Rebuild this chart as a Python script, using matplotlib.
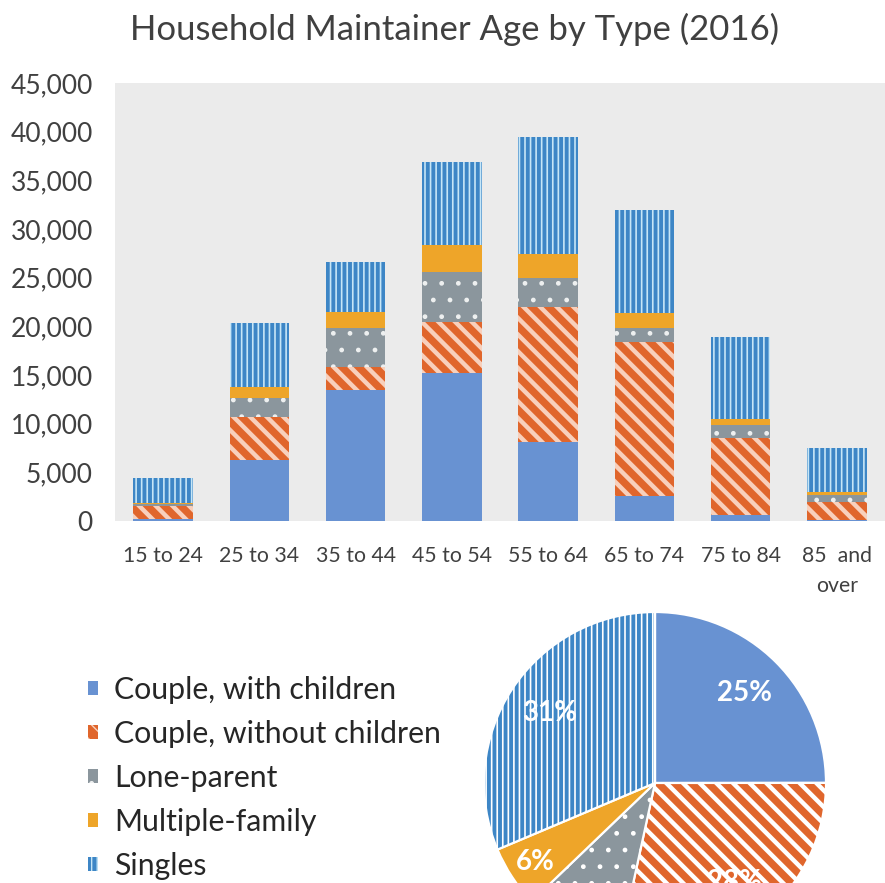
import numpy as np
import matplotlib
matplotlib.use("Agg")
import matplotlib.pyplot as plt
from matplotlib.patches import Patch
from matplotlib.ticker import FuncFormatter

plt.rcParams['font.family'] = ['Lato', 'DejaVu Sans']

# household maintainers by age group, stacked by household type
ages = ['15 to 24', '25 to 34', '35 to 44', '45 to 54', '55 to 64',
        '65 to 74', '75 to 84', '85  and\nover']
couple_with = [200, 6260, 13450, 15160, 8140, 2570, 620, 100]
couple_without = [1300, 4450, 2390, 5300, 13860, 15840, 7870, 1880]
lone_parent = [200, 1890, 3940, 5140, 2920, 1370, 1370, 690]
multiple_family = [150, 1190, 1710, 2740, 2560, 1540, 580, 340]
singles = [2550, 6540, 5130, 8550, 11980, 10680, 8480, 4450]

types = ['Couple, with children', 'Couple, without children', 'Lone-parent',
         'Multiple-family', 'Singles']
series = [couple_with, couple_without, lone_parent, multiple_family, singles]

# face colour, hatch colour, hatch pattern, hatch width
styles = [
    ('#6892d2', '#6892d2', None, 1.0),
    ('#e0662c', '#f8d0bc', '\\\\', 3.2),
    ('#8b969d', '#eef0f0', '.', 1.0),
    ('#eea529', '#eea529', None, 1.0),
    ('#3d86c6', '#c6e6f7', '|||', 1.2),
]

text_col = '#404040'

fig = plt.figure(figsize=(8.85, 8.83), dpi=100)
fig.patch.set_facecolor('white')

ax = fig.add_axes([115 / 885, 1 - 521 / 883, 770 / 885, 438 / 883])
ax.set_facecolor('#ebebeb')

x = np.arange(len(ages))
bottom = np.zeros(len(ages))
for vals, (fc, hc, hatch, hlw) in zip(series, styles):
    with plt.rc_context({'hatch.linewidth': hlw}):
        bars = ax.bar(x, vals, 0.62, bottom=bottom, color=fc, edgecolor=hc,
                      hatch=hatch, linewidth=0)
    for b in bars:
        if hasattr(b, 'set_hatch_linewidth'):
            b.set_hatch_linewidth(hlw)
    bottom += np.array(vals)

ax.set_xlim(-0.5, len(ages) - 0.5)
ax.set_ylim(0, 45000)
ax.set_yticks(np.arange(0, 45001, 5000))
ax.yaxis.set_major_formatter(FuncFormatter(lambda v, p: f'{v:,.0f}'))
ax.set_xticks(x)
ax.set_xticklabels(ages, linespacing=1.65)
ax.tick_params(axis='y', length=0, pad=16, labelsize=19, labelcolor=text_col)
ax.tick_params(axis='x', length=0, pad=18, labelsize=15.3, labelcolor=text_col)
for s in ax.spines.values():
    s.set_visible(False)

fig.text(455 / 885, 1 - 29 / 883, 'Household Maintainer Age by Type (2016)',
         ha='center', va='center', fontsize=25, color=text_col)

# pie of the totals, partly running off the bottom of the page
totals = [sum(v) for v in series]
r_px = 171
lim = 1.02
half = lim * r_px
pax = fig.add_axes([(655 - half) / 885, (883 - 783 - half) / 883,
                    2 * half / 885, 2 * half / 883])
wedges, _, pct = pax.pie(totals, startangle=90, counterclock=False,
                         colors=[s[0] for s in styles],
                         autopct='%1.0f%%', pctdistance=0.74,
                         wedgeprops=dict(linewidth=1.6, edgecolor='white'),
                         textprops=dict(color='white', fontsize=20,
                                        fontweight='bold'))
for w, (fc, hc, hatch, hlw) in zip(wedges, styles):
    if hatch:
        with plt.rc_context({'hatch.linewidth': hlw}):
            w.set_hatch(hatch)
        if hasattr(w, 'set_hatch_linewidth'):
            w.set_hatch_linewidth(hlw)
        # hatch lines take the hatch colour, keep the white outline
        if hasattr(w, 'set_hatchcolor'):
            w.set_hatchcolor(hc)
# label radii for the lower slices (fitted like the spreadsheet's best fit)
for i, r in [(2, 0.86), (3, 0.84)]:
    tx, ty = pct[i].get_position()
    pct[i].set_position((tx * r / 0.74, ty * r / 0.74))
pax.set_xlim(-lim, lim)
pax.set_ylim(-lim, lim)
pax.set_aspect('equal')
pax.axis('off')

handles = [Patch(facecolor=fc, edgecolor=hc, hatch=h, linewidth=0)
           for fc, hc, h, _ in styles]
fig.legend(handles, types, loc='upper left', bbox_to_anchor=(88 / 885, 1 - 676 / 883),
           frameon=False, fontsize=21.8, handlelength=0.32, handleheight=0.32,
           handletextpad=0.55, labelspacing=0.53, labelcolor='#262626',
           borderaxespad=0, borderpad=0)

fig.savefig('out.png', dpi=100, facecolor='white')
